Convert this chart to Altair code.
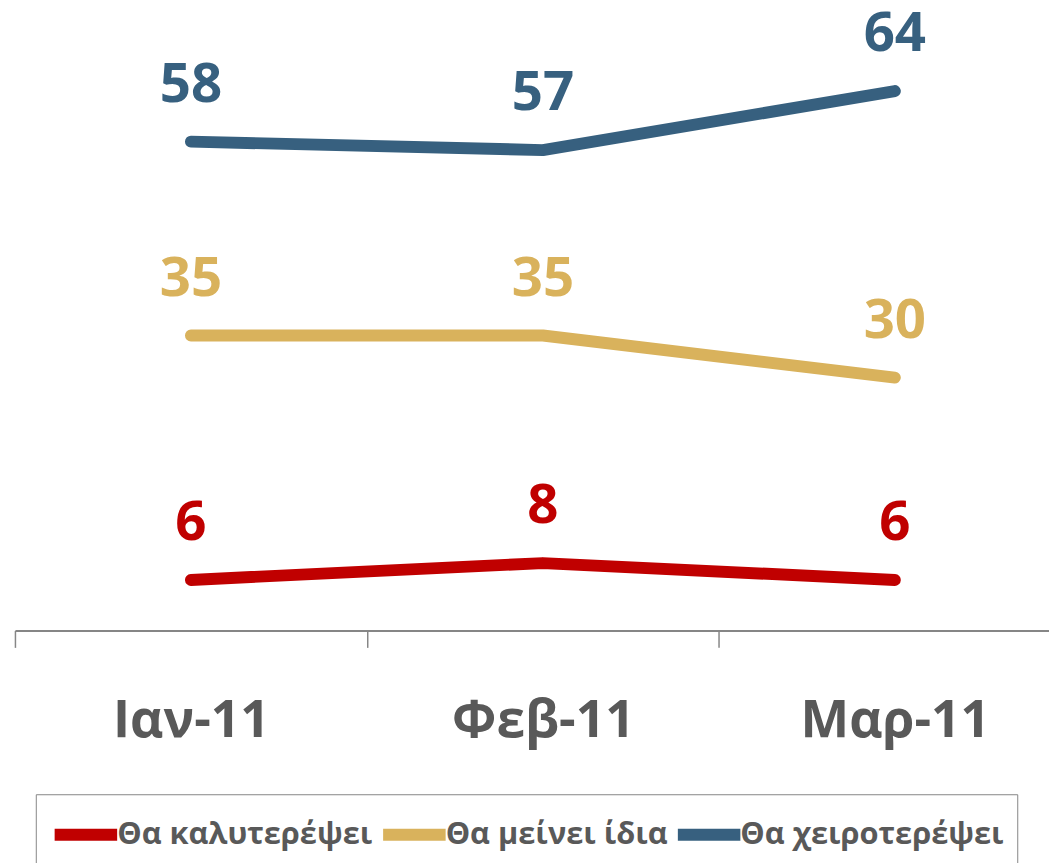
import altair as alt
import pandas as pd

months = ["Ιαν-11", "Φεβ-11", "Μαρ-11"]
series = ["Θα καλυτερέψει", "Θα μείνει ίδια", "Θα χειροτερέψει"]
better = [6, 8, 6]
same = [35, 35, 30]
worse = [58, 57, 64]
colors = ["#C00000", "#D9B25C", "#37607F"]

rows = []
for s, vals in zip(series, [better, same, worse]):
    for m, v in zip(months, vals):
        rows.append({"month": m, "series": s, "value": v})
df = pd.DataFrame(rows)

FONT = "Open Sans"

base = alt.Chart(df).encode(
    x=alt.X(
        "month:N",
        sort=months,
        scale=alt.Scale(type="band", range=[0, 1064], paddingInner=0, paddingOuter=0),
        axis=alt.Axis(
            title=None,
            labelAngle=0,
            tickBand="extent",
            domainColor="#868686",
            domainWidth=2,
            tickColor="#868686",
            tickWidth=1.5,
            tickSize=17,
            labelFont=FONT,
            labelFontSize=52,
            labelFontWeight="bold",
            labelColor="#595959",
            labelPadding=49,
            labelLimit=0,
            grid=False,
        ),
    ),
    y=alt.Y("value:Q", scale=alt.Scale(domain=[0, 73]), axis=None),
    color=alt.Color(
        "series:N",
        sort=series,
        scale=alt.Scale(domain=series, range=colors),
        legend=alt.Legend(
            title=" ",
            titleFontSize=6,
            titlePadding=5,
            orient="none",
            legendX=21,
            legendY=785,
            direction="horizontal",
            symbolType="M-1,0H5",
            symbolSize=441,
            symbolStrokeWidth=12,
            labelFont=FONT,
            labelFontSize=31,
            labelFontWeight="bold",
            labelColor="#595959",
            labelLimit=0,
            labelOffset=36,
            columnPadding=-14,
            strokeColor="#868686",
            padding=13,
        ),
    ),
)

lines = base.mark_line(strokeWidth=12, strokeCap="round", strokeJoin="round")
labels = base.mark_text(
    dy=-57, fontSize=55, fontWeight="bold", font=FONT, baseline="middle"
).encode(text="value:Q")

chart = (
    alt.layer(lines, labels)
    .properties(
        width=1042,
        height=620,
        autosize="none",
        padding={"left": 7, "top": 4, "right": 0, "bottom": 231},
    )
    .configure_view(stroke=None)
)

chart.save("out.html", embed_options={"renderer": "svg", "actions": False})
